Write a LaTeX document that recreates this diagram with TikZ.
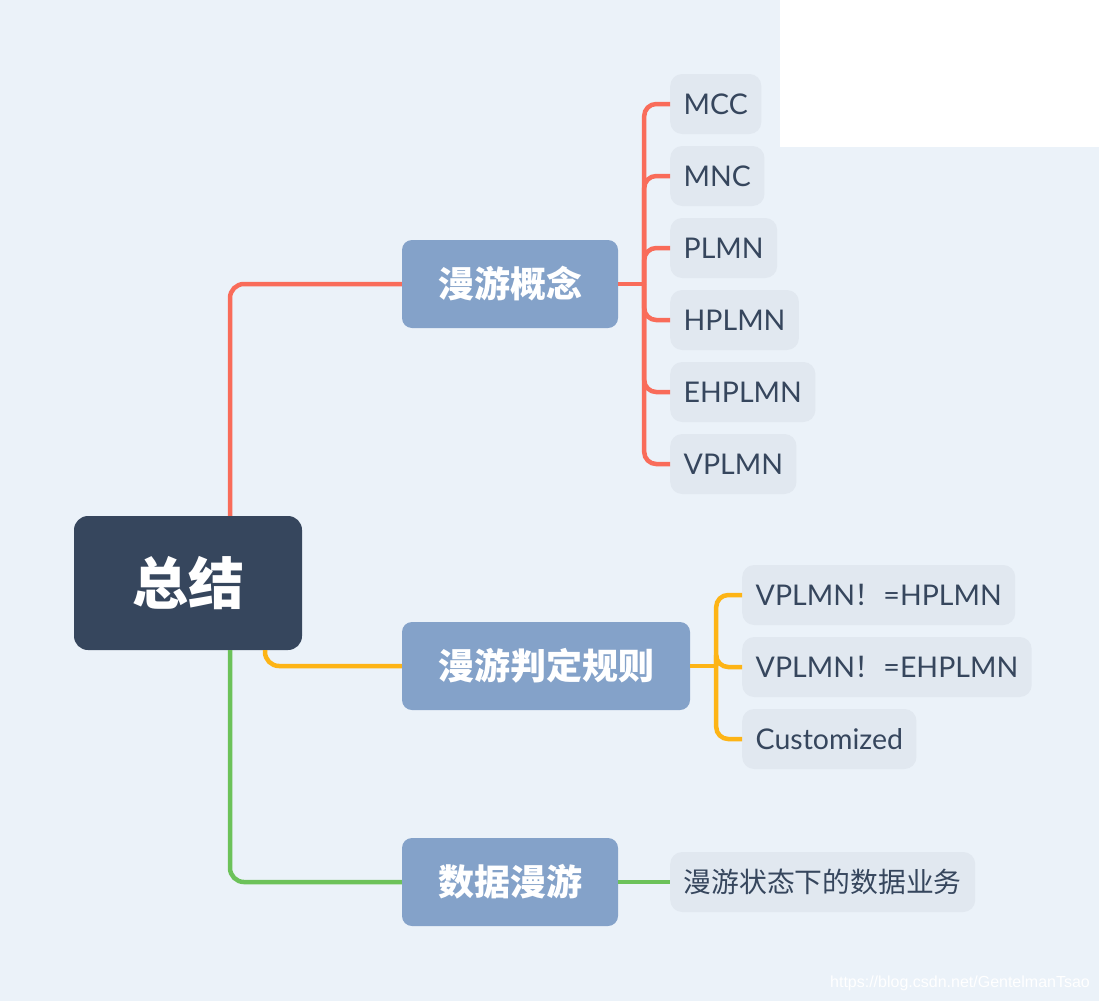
\documentclass[tikz,border=0pt]{standalone}
\usepackage{fontspec}
\setmainfont{Lato}
\newfontfamily\cjk{Noto Sans CJK SC}
\newfontfamily\markfont{Liberation Sans}
\usetikzlibrary{positioning}

\definecolor{bgblue}{HTML}{EBF2F9}
\definecolor{rootdark}{HTML}{36465D}
\definecolor{topicblue}{HTML}{84A2C9}
\definecolor{leafgray}{HTML}{E1E8F0}
\definecolor{redline}{HTML}{F96C5A}
\definecolor{orangeline}{HTML}{FDB416}
\definecolor{greenline}{HTML}{6CC25A}

\begin{document}
\begin{tikzpicture}[x=1pt,y=-1pt,
		root/.style={fill=rootdark,text=white,rounded corners=14pt,
			minimum width=228pt,minimum height=134pt,
			font=\cjk\bfseries\fontsize{56}{60}\selectfont},
		topic/.style={fill=topicblue,text=white,rounded corners=10pt,
			minimum height=88pt,inner xsep=36pt,
			font=\cjk\bfseries\fontsize{36}{40}\selectfont},
		leaf/.style={fill=leafgray,text=rootdark,rounded corners=12pt,
			minimum height=60pt,inner xsep=13.5pt,anchor=west,
			text height=21pt,text depth=0pt,
			font=\fontsize{28.5}{32}\selectfont},
		link/.style={line width=4.5pt,rounded corners=14pt}
	]
		\useasboundingbox (0,0) rectangle (1099,1001);
		\fill[bgblue] (0,0) rectangle (1099,1001);
		\fill[white] (780,0) rectangle (1099,147);

		% main topics
		\node[root]  (zj) at (188,583) {总结};
		\node[topic] (gn) at (510,284) {漫游概念};
		\node[topic] (gz) at (546,666) {漫游判定规则};
		\node[topic] (sj) at (510,882) {数据漫游};

		% leaves
		\node[leaf] (mcc)    at (670,104) {MCC};
		\node[leaf] (mnc)    at (670,176) {MNC};
		\node[leaf] (plmn)   at (670,248) {PLMN};
		\node[leaf] (hplmn)  at (670,320) {HPLMN};
		\node[leaf] (ehplmn) at (670,392) {EHPLMN};
		\node[leaf] (vplmn)  at (670,464) {VPLMN};

		\node[leaf] (neh)  at (742,595) {VPLMN{\cjk ！}=HPLMN};
		\node[leaf] (neeh) at (742,667) {VPLMN{\cjk ！}=EHPLMN};
		\node[leaf] (cust) at (742,739) {Customized};

		\node[leaf,font=\cjk\fontsize{27.8}{32}\selectfont] (yw) at (670,882) {漫游状态下的数据业务};

		% connectors
		\draw[link,redline]    ([xshift=42pt]zj.north) |- (gn.west);
		\draw[link,orangeline] ([xshift=77pt]zj.south) |- (gz.west);
		\draw[link,greenline]  ([xshift=42pt]zj.south) |- (sj.west);

		\coordinate (gnfork) at ([xshift=26pt]gn.east);
		\draw[link,redline] (gn.east) -- (gnfork);
		\foreach \leafname in {mcc,mnc,plmn,hplmn,ehplmn,vplmn}
			\draw[link,redline,rounded corners=12pt] (gnfork) |- (\leafname.west);

		\coordinate (gzfork) at ([xshift=26pt]gz.east);
		\draw[link,orangeline] (gz.east) -- (gzfork);
		\foreach \leafname in {neh,neeh,cust}
			\draw[link,orangeline,rounded corners=12pt] (gzfork) |- (\leafname.west);

		\draw[link,greenline] (sj.east) -- (yw.west);

		\node[text=white,font=\markfont\fontsize{16}{19}\selectfont] (mark) at (960,983) {https://blog.csdn.net/GentelmanTsao};
	\end{tikzpicture}
\end{document}
